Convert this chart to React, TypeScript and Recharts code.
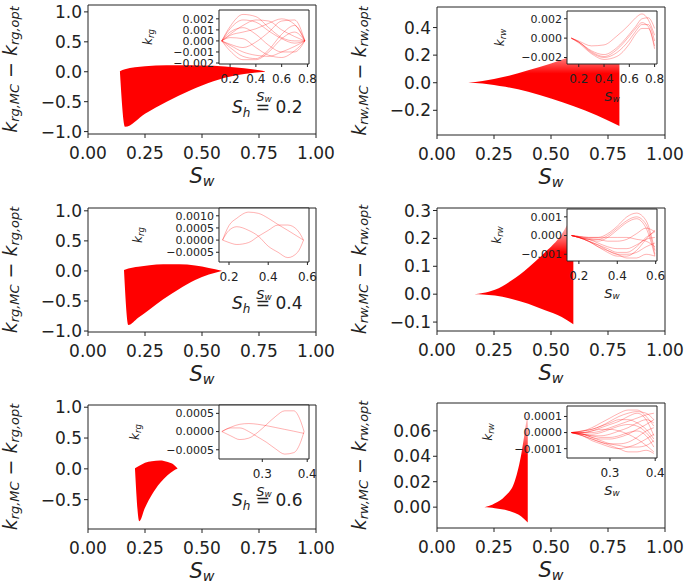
import React from "react";
import { ComposedChart, Area, Line, XAxis, YAxis, ReferenceArea } from "recharts";

const FONT = "'DejaVu Sans', 'Liberation Sans', sans-serif";
const RED = "#ff0000";
const INK = "#222222";

// S_w ticks of the main plots
const swTicks = [0, 0.25, 0.5, 0.75, 1];

// envelopes (lower / upper edge) of the MC curves
const p1X = [0.14, 0.162, 0.25, 0.345, 0.45, 0.55, 0.65, 0.72, 0.776];
const p1Low = [0, -0.92, -0.7, -0.5, -0.31, -0.16, -0.06, -0.02, 0];
const p1High = [0.01, 0.04, 0.09, 0.11, 0.11, 0.1, 0.07, 0.04, 0.01];

const p2X = [0.137, 0.2, 0.3, 0.4, 0.5, 0.6, 0.7, 0.8];
const p2Low = [0, -0.005, -0.03, -0.065, -0.115, -0.17, -0.235, -0.314];
const p2High = [0, 0.012, 0.045, 0.09, 0.14, 0.2, 0.26, 0.32];

const p3X = [0.158, 0.177, 0.22, 0.27, 0.33, 0.4, 0.47, 0.53, 0.586];
const p3Low = [0, -0.9, -0.78, -0.64, -0.47, -0.3, -0.15, -0.06, 0];
const p3High = [0.015, 0.04, 0.07, 0.095, 0.11, 0.11, 0.09, 0.05, 0.005];

const p4X = [0.164, 0.2, 0.254, 0.328, 0.4, 0.474, 0.547, 0.598];
const p4Low = [0, -0.001, -0.005, -0.017, -0.034, -0.058, -0.082, -0.108];
const p4High = [0, 0.004, 0.016, 0.05, 0.095, 0.15, 0.215, 0.29];

const p5X = [0.206, 0.225, 0.25, 0.28, 0.316, 0.35, 0.375, 0.392];
const p5Low = [0, -0.85, -0.63, -0.42, -0.23, -0.1, -0.03, 0];
const p5High = [0.01, 0.05, 0.1, 0.125, 0.135, 0.11, 0.07, 0.01];

const p6X = [0.208, 0.23, 0.254, 0.298, 0.342, 0.371, 0.398];
const p6Low = [0, -0.0002, -0.0008, -0.002, -0.0047, -0.0075, -0.012];
const p6High = [0, 0.001, 0.003, 0.0085, 0.021, 0.043, 0.076];

// inset curves (k_MC - k_opt for a few samples)
const i1X = [0.135, 0.2, 0.3, 0.4, 0.5, 0.6, 0.7, 0.78];
const i1Curves = [
  [0, 0.0013, 0.0024, 0.0022, 0.0012, 0.0003, 0.0, 0],
  [0, 0.0011, 0.0019, 0.0017, 0.0009, 0.0002, -0.0002, 0],
  [0, 0.0008, 0.0012, 0.0006, -0.0004, -0.001, -0.001, 0],
  [0, 0.0005, 0.0008, 0.0011, 0.0016, 0.002, 0.0015, 0],
  [0, -0.0006, -0.0014, -0.0016, -0.0008, 0.0006, 0.0014, 0],
  [0, -0.0009, -0.0017, -0.0017, -0.001, 0.0002, 0.0008, 0],
  [0, -0.0003, -0.0006, -0.0001, 0.0008, 0.0018, 0.0019, 0],
  [0, 0.0003, 0.0002, -0.0006, -0.0013, -0.0015, -0.0009, 0],
  [0, -0.0004, -0.001, -0.0013, -0.0014, -0.001, -0.0005, 0],
  [0, 0.0006, 0.0014, 0.0019, 0.0018, 0.001, 0.0004, 0],
];

const i2X = [0.141, 0.2, 0.3, 0.4, 0.5, 0.6, 0.65, 0.7, 0.75, 0.8];
const i2Curves = [
  [0, -0.0003, -0.0008, -0.0007, 0.0002, 0.0014, 0.0021, 0.0025, 0.0019, 0.0003],
  [0, -0.0004, -0.0013, -0.0017, -0.001, 0.0004, 0.0012, 0.002, 0.0021, 0.001],
  [0, -0.0004, -0.0015, -0.002, -0.0015, -0.0002, 0.0007, 0.0014, 0.0014, -0.0003],
  [0, -0.0005, -0.0016, -0.0022, -0.0019, -0.0006, 0.0004, 0.001, 0.001, -0.0011],
  [0, -0.0004, -0.0014, -0.0019, -0.0012, 0.0002, 0.001, 0.0016, 0.0012, -0.0008],
];

const i3X = [0.167, 0.2, 0.24, 0.3, 0.35, 0.4, 0.45, 0.5, 0.55, 0.58];
const i3Curves = [
  [0, 0.0006, 0.0009, 0.00115, 0.0011, 0.0009, 0.00064, 0.0004, 0.00015, 0],
  [0, 0.0004, 0.00055, 0.0004, 0.00016, -0.00025, -0.0005, -0.00072, -0.0005, 0],
  [0, -0.0001, -0.00018, -0.0001, 0.00016, 0.0004, 0.00062, 0.00062, 0.0004, 0],
];

const i4X = [0.162, 0.2, 0.25, 0.3, 0.35, 0.4, 0.45, 0.5, 0.55, 0.596];
const i4Curves = [
  [0, -0.00005, -0.0001, -0.0001, 0.0001, 0.0005, 0.001, 0.0012, 0.0008, -0.0008],
  [0, -0.00005, -0.00015, -0.0002, 0.0, 0.0004, 0.0008, 0.001, 0.0006, -0.001],
  [0, -0.0001, -0.0002, -0.0003, -0.0001, 0.0003, 0.0007, 0.0009, 0.0004, -0.0011],
  [0, -0.00005, -0.0001, -0.0001, -0.0001, -0.0001, -0.0001, -0.0002, -0.0003, -0.0006],
  [0, -0.0001, -0.0003, -0.0006, -0.0009, -0.0011, -0.0011, -0.0008, -0.0002, 0.0003],
  [0, -0.0001, -0.0003, -0.0005, -0.0007, -0.0009, -0.0009, -0.0006, -0.0001, 0.0002],
  [0, -0.0001, -0.0002, -0.0004, -0.0006, -0.0007, -0.0007, -0.0005, -0.0002, -0.0001],
  [0, -0.0001, -0.0003, -0.0005, -0.0008, -0.001, -0.001, -0.0009, -0.0006, -0.0004],
  [0, -0.0001, -0.0003, -0.0006, -0.0008, -0.001, -0.0012, -0.0012, -0.001, -0.0011],
  [0, -0.0001, -0.0002, -0.0002, -0.0003, -0.0003, -0.0002, 0.0001, 0.0004, 0.0002],
];

const i5X = [0.21, 0.23, 0.25, 0.27, 0.29, 0.31, 0.33, 0.35, 0.37, 0.385, 0.393];
const i5Curves = [
  [0, 0.0001, 0.0001, 0.0, -0.00015, -0.0003, -0.00048, -0.00062, -0.00058, -0.0003, 0],
  [0, -0.00012, -0.00022, -0.00018, -0.00002, 0.0002, 0.00042, 0.00057, 0.00057, 0.0003, 0],
  [0, 0.00012, 0.0002, 0.00022, 0.0002, 0.00016, 0.00011, 0.00006, 0.00001, -0.00003, -0.00005],
];

const i6X = [0.215, 0.24, 0.26, 0.28, 0.3, 0.32, 0.34, 0.36, 0.38, 0.397];
const i6Curves = [
  [0, 0.00001, 0.00003, 0.00006, 0.00009, 0.00012, 0.00014, 0.00014, 0.0001, 0.00004],
  [0, 0.00001, 0.00002, 0.00004, 0.00007, 0.0001, 0.00012, 0.00013, 0.00012, 0.00008],
  [0, 0.0, 0.00001, 0.00003, 0.00005, 0.00007, 0.0001, 0.00012, 0.00008, -0.00002],
  [0, 0.0, 0.0, 0.00001, 0.00003, 0.00005, 0.00007, 0.00009, 0.00011, 0.00012],
  [0, -0.00001, -0.00001, 0.0, 0.00002, 0.00004, 0.00005, 0.00004, 0.0, -0.00006],
  [0, -0.00001, -0.00002, -0.00002, -0.00001, 0.00001, 0.00003, 0.00006, 0.00008, 0.00006],
  [0, -0.00001, -0.00003, -0.00004, -0.00004, -0.00003, -0.00001, 0.00002, 0.00005, 0.00008],
  [0, -0.00002, -0.00004, -0.00006, -0.00007, -0.00007, -0.00006, -0.00003, 0.00001, 0.00003],
  [0, -0.00002, -0.00005, -0.00007, -0.00009, -0.0001, -0.00009, -0.00007, -0.00004, -0.00001],
  [0, -0.00001, -0.00003, -0.00005, -0.00007, -0.00008, -0.00009, -0.00009, -0.00008, -0.00005],
  [0, -0.00002, -0.00004, -0.00006, -0.00008, -0.0001, -0.00012, -0.00012, -0.00011, -0.00013],
  [0, 0.0, 0.00001, 0.00002, 0.00002, 0.00001, -0.00001, -0.00004, -0.00008, -0.00012],
  [0, 0.00001, 0.00002, 0.00004, 0.00006, 0.00008, 0.00008, 0.00006, 0.00002, -0.00004],
  [0, -0.00001, -0.00002, -0.00003, -0.00003, -0.00002, 0.0, 0.00001, -0.00002, -0.00009],
];

const fmt = (d: number) => (v: number) => v.toFixed(d).replace("-", "\u2212");

function XTitle({ viewBox, size = 21, dy = 42 }: any) {
  const { x, y, width } = viewBox;
  return (
    <text x={x + width / 2} y={y + dy} textAnchor="middle" dominantBaseline="central"
      fontFamily={FONT} fontSize={size} fill={INK}>
      <tspan fontStyle="italic">S</tspan>
      <tspan fontStyle="italic" fontSize={size * 0.68} dy={size * 0.25}>w</tspan>
    </text>
  );
}

function YTitle({ viewBox, sub, cxOff = 10, size = 19 }: any) {
  const cx = viewBox.x + cxOff;
  const cy = viewBox.y + viewBox.height / 2;
  const s = size * 0.68;
  const d = size * 0.22;
  return (
    <text x={cx} y={cy} transform={`rotate(-90 ${cx} ${cy})`} textAnchor="middle" dominantBaseline="central"
      fontFamily={FONT} fontSize={size} fill={INK} fontStyle="italic">
      <tspan>k</tspan>
      <tspan fontSize={s} dy={d}>{sub},MC</tspan>
      <tspan dy={-d} fontStyle="normal"> {"\u2212"} </tspan>
      <tspan>k</tspan>
      <tspan fontSize={s} dy={d}>{sub},opt</tspan>
    </text>
  );
}

function InsetYTitle({ viewBox, sub, cxOff }: any) {
  const cx = viewBox.x + cxOff;
  const cy = viewBox.y + viewBox.height / 2;
  return (
    <text x={cx} y={cy} transform={`rotate(-90 ${cx} ${cy})`} textAnchor="middle" dominantBaseline="central"
      fontFamily={FONT} fontSize={12} fill={INK} fontStyle="italic">
      <tspan>k</tspan>
      <tspan fontSize={8.5} dy={3}>{sub}</tspan>
    </text>
  );
}

function MainPanel({ box, yDomain, yTicks, yDec, xs, low, high, fade, id, sub }: any) {
  const data = xs.map((x: number, i: number) => ({ x, band: [low[i], high[i]] }));
  const W = 88 + box.w + 30;
  const H = 10 + box.h + 60;
  return (
    <div style={{ position: "absolute", left: box.x - 88, top: box.y - 10, width: W, height: H }}>
      <ComposedChart width={W} height={H} data={data} margin={{ top: 10, right: 30, bottom: 0, left: 0 }}>
        <defs>
          <linearGradient id={id} x1="0" y1="0" x2="0" y2="1">
            {fade.map(([o, a]: number[]) => (
              <stop key={o} offset={o} stopColor={RED} stopOpacity={a} />
            ))}
          </linearGradient>
        </defs>
        <XAxis type="number" dataKey="x" domain={[0, 1]} ticks={swTicks} tickFormatter={fmt(2)}
          interval={0} allowDataOverflow axisLine={false} tickSize={4} tickMargin={9} height={60}
          tickLine={{ stroke: INK }} tick={{ fontSize: 17, fill: INK, fontFamily: FONT }}
          label={<XTitle />} />
        <YAxis type="number" domain={yDomain} ticks={yTicks} tickFormatter={fmt(yDec)}
          interval={0} allowDataOverflow axisLine={false} tickSize={4} tickMargin={2} width={88}
          tickLine={{ stroke: INK }} tick={{ fontSize: 17, fill: INK, fontFamily: FONT }}
          label={<YTitle sub={sub} />} />
        <Area dataKey="band" type="monotone" stroke="none" fill={`url(#${id})`} fillOpacity={1}
          isAnimationActive={false} />
        <ReferenceArea x1={0} x2={1} y1={yDomain[0]} y2={yDomain[1]} fill="none" stroke={INK}
          strokeWidth={1} fillOpacity={0} />
      </ComposedChart>
    </div>
  );
}

function Inset({ box, xDomain, xTicks, yDomain, yTicks, yDec, xs, curves, sub, labelDx }: any) {
  const data = xs.map((x: number, i: number) => {
    const row: any = { x };
    curves.forEach((c: number[], j: number) => (row["c" + j] = c[i]));
    return row;
  });
  const L = 95;
  const W = L + box.w + 12;
  const H = 5 + box.h + 45;
  return (
    <div style={{ position: "absolute", left: box.x - L, top: box.y - 5, width: W, height: H }}>
      <div style={{ position: "absolute", left: L, top: 5, width: box.w, height: box.h, background: "#fff" }} />
      <ComposedChart width={W} height={H} data={data} margin={{ top: 5, right: 12, bottom: 0, left: 0 }}>
        <XAxis type="number" dataKey="x" domain={xDomain} ticks={xTicks} tickFormatter={fmt(1)}
          interval={0} allowDataOverflow axisLine={false} tickSize={3} tickMargin={7} height={45}
          tickLine={{ stroke: INK }} tick={{ fontSize: 12, fill: INK, fontFamily: FONT }}
          label={<XTitle size={13} dy={32} />} />
        <YAxis type="number" domain={yDomain} ticks={yTicks} tickFormatter={fmt(yDec)}
          interval={0} allowDataOverflow axisLine={false} tickSize={3} tickMargin={2} width={L}
          tickLine={{ stroke: INK }} tick={{ fontSize: 11, fill: INK, fontFamily: FONT }}
          label={<InsetYTitle sub={sub} cxOff={L - labelDx} />} />
        {curves.map((_: number[], j: number) => (
          <Line key={j} dataKey={"c" + j} type="monotone" stroke={RED} strokeOpacity={0.3}
            strokeWidth={1} dot={false} isAnimationActive={false} />
        ))}
        <ReferenceArea x1={xDomain[0]} x2={xDomain[1]} y1={yDomain[0]} y2={yDomain[1]} fill="none"
          fillOpacity={0} stroke={INK} strokeWidth={1} />
      </ComposedChart>
    </div>
  );
}

function ShLabel({ left, top, value }: any) {
  return (
    <div style={{ position: "absolute", left, top, fontFamily: FONT, fontSize: 17, lineHeight: "17px",
      color: INK, whiteSpace: "nowrap" }}>
      <i>S</i>
      <i style={{ fontSize: 12, position: "relative", top: 4 }}>h</i>
      {" = " + value}
    </div>
  );
}

const solid = [[0, 1], [1, 1]];

export default function App() {
  return (
    <div style={{ position: "absolute", left: 0, top: 0, width: 685, height: 583, background: "#fff" }}>
      <MainPanel id="g1" sub="rg" box={{ x: 88, y: 5, w: 228, h: 129 }} yDomain={[-1.04, 1.115]}
        yTicks={[-1, -0.5, 0, 0.5, 1]} yDec={1} xs={p1X} low={p1Low} high={p1High} fade={solid} />
      <MainPanel id="g2" sub="rw" box={{ x: 437, y: 7, w: 228, h: 128 }} yDomain={[-0.379, 0.549]}
        yTicks={[-0.2, 0, 0.2, 0.4]} yDec={1} xs={p2X} low={p2Low} high={p2High}
        fade={[[0, 0.05], [0.25, 0.6], [0.4, 1], [1, 1]]} />
      <MainPanel id="g3" sub="rg" box={{ x: 88, y: 208, w: 228, h: 124 }} yDomain={[-1.016, 1.047]}
        yTicks={[-1, -0.5, 0, 0.5, 1]} yDec={1} xs={p3X} low={p3Low} high={p3High} fade={solid} />
      <MainPanel id="g4" sub="rw" box={{ x: 437, y: 208, w: 228, h: 123 }} yDomain={[-0.132, 0.309]}
        yTicks={[-0.1, 0, 0.1, 0.2, 0.3]} yDec={1} xs={p4X} low={p4Low} high={p4High}
        fade={[[0, 0.05], [0.2, 0.5], [0.35, 1], [1, 1]]} />
      <MainPanel id="g5" sub="rg" box={{ x: 88, y: 405, w: 228, h: 124 }} yDomain={[-0.976, 1.036]}
        yTicks={[-0.5, 0, 0.5, 1]} yDec={1} xs={p5X} low={p5Low} high={p5High} fade={solid} />
      <MainPanel id="g6" sub="rw" box={{ x: 437, y: 403, w: 228, h: 125 }} yDomain={[-0.0164, 0.0819]}
        yTicks={[0, 0.02, 0.04, 0.06]} yDec={2} xs={p6X} low={p6Low} high={p6High}
        fade={[[0, 0.05], [0.25, 0.6], [0.4, 1], [1, 1]]} />

      <ShLabel left={232} top={99} value="0.2" />
      <ShLabel left={232} top={295} value="0.4" />
      <ShLabel left={232} top={492} value="0.6" />

      <Inset sub="rg" box={{ x: 219, y: 10, w: 90, h: 54 }} xDomain={[0.114, 0.812]} xTicks={[0.2, 0.4, 0.6, 0.8]}
        yDomain={[-0.00209, 0.0028]} yTicks={[-0.002, -0.001, 0, 0.001, 0.002]} yDec={3}
        xs={i1X} curves={i1Curves} labelDx={71} />
      <Inset sub="rw" box={{ x: 567, y: 11, w: 90, h: 53 }} xDomain={[0.107, 0.819]} xTicks={[0.2, 0.4, 0.6, 0.8]}
        yDomain={[-0.00267, 0.0028]} yTicks={[-0.002, 0, 0.002]} yDec={3}
        xs={i2X} curves={i2Curves} labelDx={67} />
      <Inset sub="rg" box={{ x: 219, y: 208, w: 90, h: 54 }} xDomain={[0.149, 0.608]} xTicks={[0.2, 0.4, 0.6]}
        yDomain={[-0.0009, 0.00132]} yTicks={[-0.0005, 0, 0.0005, 0.001]} yDec={4}
        xs={i3X} curves={i3Curves} labelDx={81} />
      <Inset sub="rw" box={{ x: 567, y: 209, w: 90, h: 52 }} xDomain={[0.138, 0.607]} xTicks={[0.2, 0.4, 0.6]}
        yDomain={[-0.00136, 0.00142]} yTicks={[-0.001, 0, 0.001]} yDec={3}
        xs={i4X} curves={i4Curves} labelDx={70} />
      <Inset sub="rg" box={{ x: 219, y: 405, w: 90, h: 54 }} xDomain={[0.2036, 0.404]} xTicks={[0.3, 0.4]}
        yDomain={[-0.000754, 0.00073]} yTicks={[-0.0005, 0, 0.0005]} yDec={4}
        xs={i5X} curves={i5Curves} labelDx={84} />
      <Inset sub="rw" box={{ x: 567, y: 406, w: 90, h: 52 }} xDomain={[0.205, 0.404]} xTicks={[0.3, 0.4]}
        yDomain={[-0.000158, 0.000165]} yTicks={[-0.0001, 0, 0.0001]} yDec={4}
        xs={i6X} curves={i6Curves} labelDx={79} />
    </div>
  );
}
